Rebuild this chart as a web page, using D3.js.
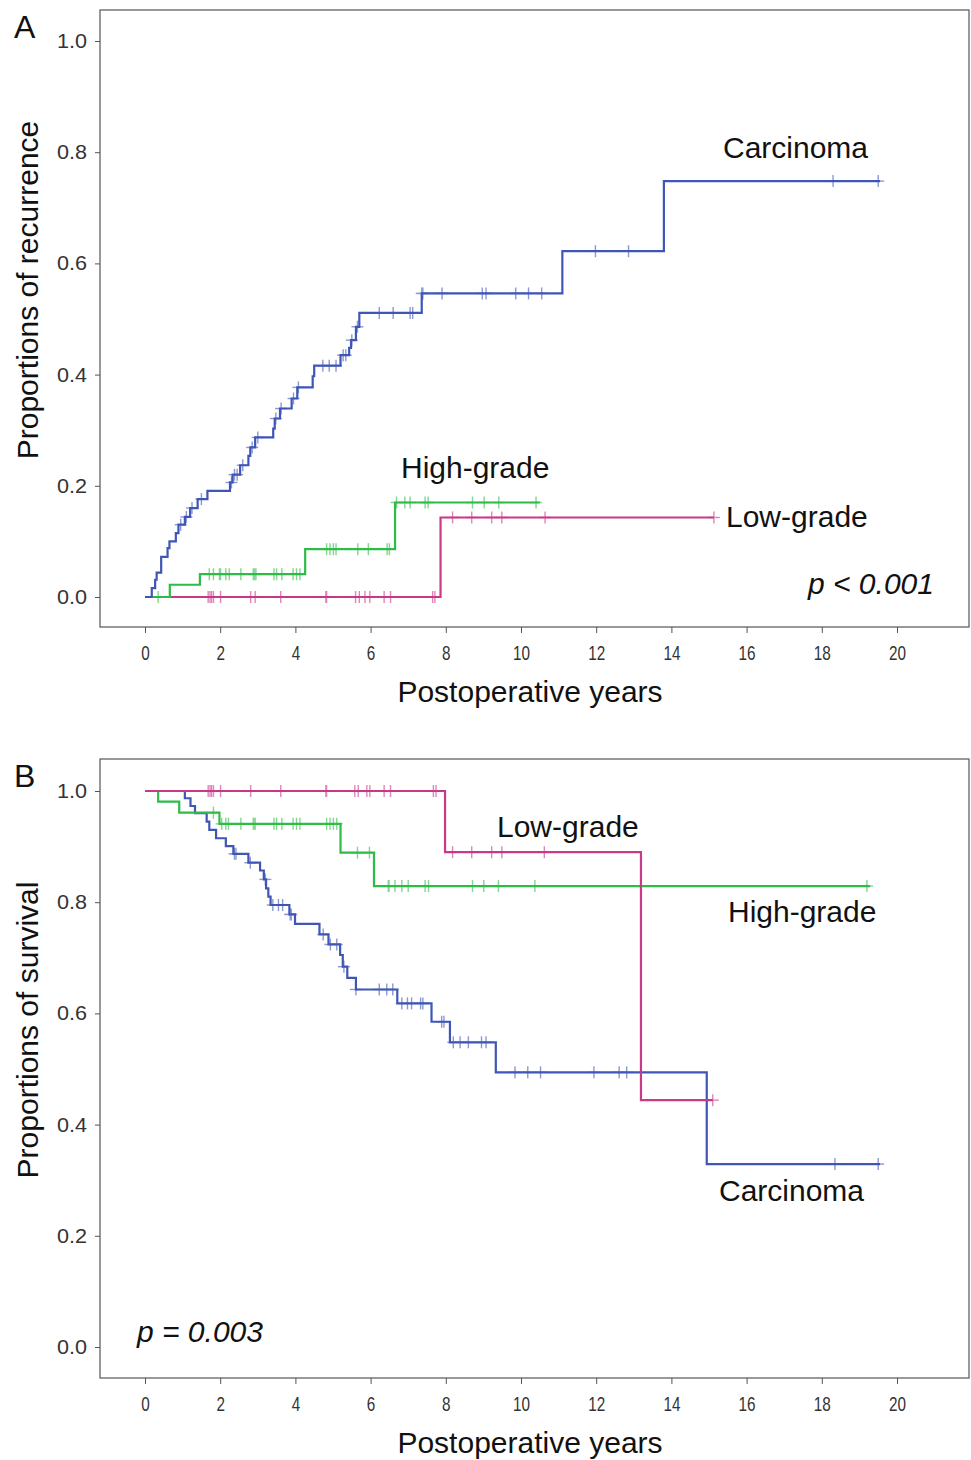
<!DOCTYPE html>
<html>
<head>
<meta charset="utf-8">
<script src="https://cdn.jsdelivr.net/npm/d3@7"></script>
<style>
  body { margin: 0; background: #fff; }
  svg { display: block; font-family: "Liberation Sans", Arial, sans-serif; }
  .tick text { fill: #333; }
  .tick line { stroke: #555; }
</style>
</head>
<body>
<div id="chart"></div>
<script>
// ---- data ----
const xTicks = [0, 2, 4, 6, 8, 10, 12, 14, 16, 18, 20];
const yTicks = [0, 0.2, 0.4, 0.6, 0.8, 1.0];

// Panel A: recurrence
const carRecT = [0, 0.18, 0.27, 0.31, 0.43, 0.60, 0.65, 0.82, 0.89, 1.06, 1.20, 1.40, 1.66, 2.26, 2.33, 2.53, 2.75, 2.80, 2.93, 3.41, 3.45, 3.59, 3.90, 4.05, 4.46, 4.50, 5.20, 5.43, 5.48, 5.61, 5.70, 7.36, 11.1, 13.8];
const carRecP = [0, 0.016, 0.031, 0.044, 0.072, 0.088, 0.100, 0.115, 0.130, 0.144, 0.160, 0.176, 0.191, 0.206, 0.220, 0.237, 0.254, 0.269, 0.287, 0.303, 0.321, 0.339, 0.357, 0.377, 0.397, 0.416, 0.435, 0.448, 0.462, 0.486, 0.511, 0.546, 0.622, 0.748];
const carRecCens = [0.95, 1.1, 1.25, 1.5, 2.3, 2.38, 2.45, 2.6, 2.85, 3.0, 3.48, 3.62, 3.95, 4.08, 4.73, 4.90, 5.08, 5.27, 5.34, 5.50, 5.65, 6.23, 6.60, 7.05, 7.12, 7.36, 7.39, 7.90, 8.97, 9.07, 9.86, 10.2, 10.55, 11.98, 12.86, 18.3, 19.5];
const carRecEnd = 19.55;

const grnRecT = [0, 0.66, 1.46, 4.26, 6.65];
const grnRecP = [0, 0.022, 0.041, 0.086, 0.170];
const grnRecCens = [0.35, 1.71, 1.82, 1.98, 2.01, 2.15, 2.24, 2.55, 2.88, 2.92, 2.95, 3.43, 3.50, 3.64, 3.94, 4.03, 4.12, 4.83, 4.92, 5.01, 5.08, 5.66, 5.94, 6.44, 6.50, 6.69, 6.91, 7.05, 7.45, 7.53, 8.71, 9.02, 9.41, 10.40];
const grnRecEnd = 10.5;

const magRecT = [0, 7.86];
const magRecP = [0, 0.143];
const magRecCens = [1.68, 1.73, 1.77, 1.82, 2.01, 2.81, 2.93, 3.61, 4.81, 4.83, 5.60, 5.70, 5.85, 5.98, 6.36, 6.53, 7.65, 7.71, 8.18, 8.69, 9.22, 9.49, 10.64, 15.13];
const magRecEnd = 15.13;

// Panel B: survival
const carSurT = [0, 1.06, 1.21, 1.33, 1.64, 1.71, 1.89, 2.15, 2.35, 2.75, 3.06, 3.16, 3.22, 3.28, 3.34, 3.84, 3.99, 4.64, 4.88, 5.19, 5.26, 5.38, 5.61, 6.71, 7.62, 8.11, 9.33, 14.94];
const carSurP = [1, 0.987, 0.973, 0.960, 0.945, 0.930, 0.915, 0.901, 0.887, 0.871, 0.857, 0.841, 0.825, 0.810, 0.795, 0.778, 0.761, 0.742, 0.724, 0.705, 0.684, 0.664, 0.643, 0.618, 0.585, 0.548, 0.494, 0.329];
const carSurCens = [2.38, 2.42, 2.80, 3.20, 3.40, 3.55, 3.66, 3.86, 3.89, 4.74, 4.93, 5.10, 5.29, 5.61, 6.23, 6.43, 6.59, 6.83, 6.98, 7.09, 7.33, 7.39, 7.89, 7.95, 8.20, 8.38, 8.60, 8.95, 9.07, 9.84, 10.18, 10.52, 11.94, 12.61, 12.81, 18.35, 19.5];
const carSurEnd = 19.55;

const grnSurT = [0, 0.35, 0.91, 1.98, 5.20, 6.09];
const grnSurP = [1, 0.981, 0.961, 0.941, 0.889, 0.829];
const grnSurCens = [1.82, 2.04, 2.15, 2.22, 2.55, 2.88, 2.90, 2.93, 3.43, 3.50, 3.64, 3.94, 4.03, 4.12, 4.83, 4.92, 5.01, 5.10, 5.65, 5.97, 6.47, 6.49, 6.65, 6.83, 7.00, 7.45, 7.54, 8.71, 9.01, 9.40, 10.37, 19.2];
const grnSurEnd = 19.28;

const magSurT = [0, 7.98, 13.19];
const magSurP = [1, 0.890, 0.444];
const magSurCens = [1.68, 1.73, 1.77, 1.82, 2.01, 2.81, 3.61, 4.81, 4.83, 5.58, 5.67, 5.90, 5.98, 6.36, 6.53, 7.67, 7.74, 8.18, 8.69, 9.22, 9.49, 10.62, 15.1];
const magSurEnd = 15.1;

const BLUE = '#3f56b6', GREEN = '#2fbb47', MAGENTA = '#c8398a';

const svg = d3.select('#chart').append('svg')
    .attr('width', 971)
    .attr('height', 1460);

function buildPanel(cfg) {
    const g = svg.append('g');
    const x = d3.scaleLinear().domain([0, 20]).range([145, 897]);
    const y = d3.scaleLinear().domain([0, 1]).range([cfg.y0, cfg.y0 - 556]);

    // frame
    g.append('rect')
        .attr('x', 100).attr('y', cfg.top)
        .attr('width', 869).attr('height', cfg.bottom - cfg.top)
        .attr('fill', 'none').attr('stroke', '#555').attr('stroke-width', 1.2);

    const xa = g.append('g')
        .attr('transform', 'translate(0,' + cfg.bottom + ')')
        .call(d3.axisBottom(x).tickValues(xTicks).tickSize(6).tickPadding(12).tickFormat(d3.format('d')));
    xa.select('.domain').remove();
    // the reference numerals are narrow
    xa.selectAll('.tick text')
        .style('font-size', '21px')
        .attr('textLength', d => String(d).length * 8.5)
        .attr('lengthAdjust', 'spacingAndGlyphs');

    const ya = g.append('g')
        .attr('transform', 'translate(100,0)')
        .call(d3.axisLeft(y).tickValues(yTicks).tickSize(5).tickPadding(8).tickFormat(d3.format('.1f')));
    ya.select('.domain').remove();
    ya.selectAll('.tick text').style('font-size', '20px')
        .attr('textLength', 30).attr('lengthAdjust', 'spacingAndGlyphs');

    // axis titles
    g.append('text')
        .attr('x', 530).attr('y', cfg.bottom + 75)
        .attr('text-anchor', 'middle')
        .style('font-size', '30px').attr('fill', '#111')
        .text('Postoperative years');
    g.append('text')
        .attr('transform', 'translate(38,' + cfg.ytitleY + ') rotate(-90)')
        .attr('text-anchor', 'middle')
        .style('font-size', '30px').attr('fill', '#111')
        .text(cfg.ytitle);
    g.append('text')
        .attr('x', 14).attr('y', cfg.top + 28)
        .style('font-size', '32px').attr('fill', '#111')
        .text(cfg.letter);

    const line = d3.line()
        .x(d => x(d[0]))
        .y(d => y(d[1]))
        .curve(d3.curveStepAfter);

    const valueAt = (T, P, t) => {
        let v = P[0];
        for (let i = 0; i < T.length; i++) if (T[i] <= t) v = P[i];
        return v;
    };

    for (const s of cfg.series) {
        const pts = s.T.map((t, i) => [t, s.P[i]]);
        pts.push([s.end, s.P[s.P.length - 1]]);
        g.append('path')
            .datum(pts)
            .attr('fill', 'none')
            .attr('stroke', s.color)
            .attr('stroke-width', 2.2)
            .attr('d', line);

        const cens = g.append('g')
            .attr('stroke', s.color)
            .attr('stroke-width', 1.4)
            .attr('opacity', 0.6);
        cens.selectAll('line.v')
            .data(s.cens)
            .enter().append('line')
            .attr('x1', d => x(d)).attr('x2', d => x(d))
            .attr('y1', d => y(valueAt(s.T, s.P, d)) - 6)
            .attr('y2', d => y(valueAt(s.T, s.P, d)) + 6);
        cens.selectAll('line.h')
            .data(s.cens)
            .enter().append('line')
            .attr('x1', d => x(d) - 6).attr('x2', d => x(d) + 6)
            .attr('y1', d => y(valueAt(s.T, s.P, d)))
            .attr('y2', d => y(valueAt(s.T, s.P, d)));
    }

    for (const l of cfg.labels) {
        g.append('text')
            .attr('x', l.x).attr('y', l.y)
            .style('font-size', '30px')
            .style('font-style', l.italic ? 'italic' : 'normal')
            .attr('fill', '#111')
            .text(l.text);
    }
}

buildPanel({
    letter: 'A', top: 10, bottom: 627, y0: 597,
    ytitle: 'Proportions of recurrence', ytitleY: 290,
    series: [
        { T: magRecT, P: magRecP, cens: magRecCens, end: magRecEnd, color: MAGENTA },
        { T: grnRecT, P: grnRecP, cens: grnRecCens, end: grnRecEnd, color: GREEN },
        { T: carRecT, P: carRecP, cens: carRecCens, end: carRecEnd, color: BLUE }
    ],
    labels: [
        { text: 'Carcinoma', x: 723, y: 158 },
        { text: 'High-grade', x: 401, y: 478 },
        { text: 'Low-grade', x: 726, y: 527 },
        { text: 'p < 0.001', x: 808, y: 594, italic: true }
    ]
});

buildPanel({
    letter: 'B', top: 759, bottom: 1378, y0: 1347,
    ytitle: 'Proportions of survival', ytitleY: 1030,
    series: [
        { T: carSurT, P: carSurP, cens: carSurCens, end: carSurEnd, color: BLUE },
        { T: grnSurT, P: grnSurP, cens: grnSurCens, end: grnSurEnd, color: GREEN },
        { T: magSurT, P: magSurP, cens: magSurCens, end: magSurEnd, color: MAGENTA }
    ],
    labels: [
        { text: 'Low-grade', x: 497, y: 837 },
        { text: 'High-grade', x: 728, y: 922 },
        { text: 'Carcinoma', x: 719, y: 1201 },
        { text: 'p = 0.003', x: 137, y: 1342, italic: true }
    ]
});
</script>
</body>
</html>
